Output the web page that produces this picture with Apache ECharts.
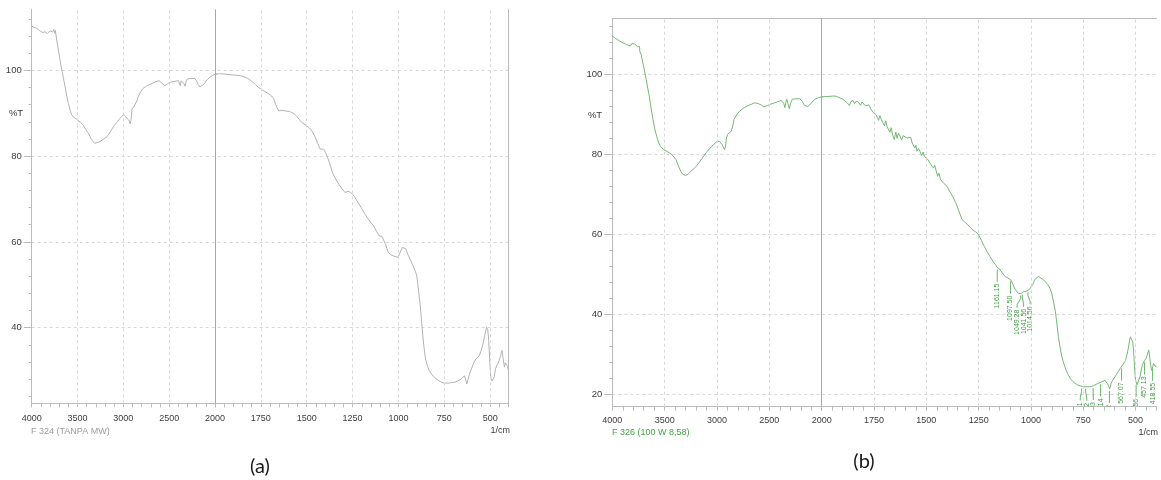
<!DOCTYPE html>
<html>
<head>
<meta charset="utf-8">
<script src="https://cdn.jsdelivr.net/npm/echarts@6/dist/echarts.min.js"></script>
<style>
  html, body { margin: 0; padding: 0; background: #fff; }
  #chart { width: 1161px; height: 480px; }
</style>
</head>
<body>
<div id="chart"></div>
<script>
// ---------------- DATA ----------------
// Spectrum (a): F 324 (TANPA MW)  — wavenumber (1/cm) and %T
const waveA = [4000,3975,3945,3925,3909,3895,3880,3865,3855,3840,3829,3815,3800,3785,3771,3760,3753,3746,3742,3725,3709,3690,3672,3655,3636,3618,3600,3580,3563,3540,3508,3470,3436,3410,3381,3350,3316,3290,3254,3220,3180,3140,3108,3075,3053,3020,2995,2975,2955,2935,2925,2915,2905,2885,2867,2850,2836,2810,2789,2750,2711,2660,2613,2580,2547,2520,2496,2450,2398,2385,2379,2370,2352,2340,2328,2315,2301,2260,2223,2200,2184,2165,2145,2120,2086,2050,2008,2000,1975,1940,1906,1870,1848,1820,1799,1780,1760,1745,1730,1710,1691,1680,1672,1662,1652,1635,1613,1595,1584,1570,1555,1540,1525,1505,1486,1470,1457,1440,1428,1418,1408,1398,1389,1375,1359,1345,1330,1310,1291,1275,1262,1242,1225,1203,1185,1164,1150,1135,1120,1105,1090,1082,1070,1055,1040,1025,1004,995,988,978,969,960,949,935,920,910,900,890,881,874,867,860,852,842,832,818,803,780,754,725,695,675,656,641,634,627,620,613,600,590,578,559,548,539,528,520,513,508,502,496,490,484,478,471,460,451,443,436,430,422,417,412,406,400];
const transA = [110.3,110.0,109.8,109.4,109.2,108.8,108.8,109.1,109.0,108.7,108.6,109.0,109.2,108.9,108.9,109.5,109.8,108.6,109.3,106.8,104.7,102.3,100.1,98.3,96.2,94.0,92.3,90.6,89.6,89.0,88.6,87.9,87.2,86.2,85.3,84.0,83.0,83.1,83.4,83.9,84.5,85.7,86.9,87.8,88.4,89.2,89.7,89.2,88.8,88.2,87.5,88.6,91.0,91.5,91.8,93.0,94.0,95.0,95.7,96.3,96.7,97.2,97.6,97.0,96.4,96.8,97.2,97.4,97.6,97.2,96.4,97.5,97.8,97.0,96.3,97.4,98.0,98.1,98.1,97.5,96.7,96.1,96.1,96.8,97.8,98.5,99.0,99.05,99.2,99.1,98.9,98.8,98.6,98.1,97.4,96.7,95.9,95.5,95.1,94.6,94.0,93.4,92.4,91.3,90.5,90.7,90.5,90.4,90.2,89.9,89.3,88.5,87.8,87.2,86.6,85.8,84.7,83.0,81.7,81.8,81.6,80.9,80.0,78.3,76.1,74.9,73.8,72.5,71.5,71.8,71.6,70.7,69.5,68.0,66.6,65.3,64.5,63.7,62.5,61.4,61.3,61.2,59.4,57.5,57.0,56.7,56.4,57.0,57.9,58.7,58.9,58.4,57.1,55.8,54.4,53.4,52.1,48.5,45.1,41.5,38.1,35.2,32.7,31.1,30.0,29.1,28.4,27.6,27.1,27.1,27.3,27.6,28.1,28.8,28.0,26.9,28.0,29.2,30.6,31.8,32.7,33.5,34.8,36.2,38.5,40.1,39.5,37.0,32.0,28.1,27.6,27.3,28.5,30.4,31.5,32.3,33.5,34.7,33.0,30.8,31.8,32.0,31.0,30.0];

// Spectrum (b): F 326 (100 W 8,58)
const waveB = [4000,3970,3950,3935,3915,3900,3880,3863,3850,3840,3827,3815,3800,3785,3773,3760,3750,3740,3737,3725,3719,3700,3683,3665,3647,3630,3611,3595,3576,3560,3540,3510,3482,3455,3428,3410,3392,3365,3338,3320,3302,3275,3248,3210,3176,3140,3104,3068,3032,3000,2978,2965,2953,2940,2928,2918,2910,2899,2880,2863,2850,2838,2810,2784,2750,2712,2675,2640,2604,2575,2550,2520,2496,2450,2406,2385,2370,2362,2352,2343,2334,2322,2309,2298,2281,2245,2209,2185,2170,2155,2135,2119,2090,2065,2030,2000,1993,1965,1942,1930,1916,1900,1888,1878,1872,1867,1862,1850,1843,1835,1825,1815,1808,1799,1790,1782,1775,1763,1755,1748,1740,1734,1728,1722,1715,1707,1700,1694,1688,1680,1674,1668,1660,1653,1646,1640,1633,1626,1618,1610,1600,1590,1582,1575,1568,1563,1555,1550,1545,1538,1530,1522,1515,1509,1500,1492,1485,1478,1473,1466,1460,1453,1446,1440,1432,1425,1419,1410,1401,1390,1374,1360,1347,1338,1329,1315,1302,1290,1277,1263,1250,1237,1223,1210,1196,1182,1169,1161,1151,1137,1124,1110,1097,1088,1079,1070,1061,1049,1043,1035,1025,1016,1008,1000,991,982,973,964,955,941,930,919,910,901,892,883,876,869,862,856,847,838,825,811,793,775,750,718,700,682,664,646,637,630,624,617,610,592,575,560,548,538,530,525,518,513,509,504,500,493,486,478,468,458,450,443,437,432,428,423,418,414,407,400];
const transB = [109.5,108.9,108.6,108.7,108.0,108.3,107.6,107.9,107.2,107.5,107.0,107.6,107.2,107.5,107.4,106.8,106.5,106.9,105.6,105.0,104.1,101.8,99.5,97.0,94.5,91.5,88.6,86.3,84.4,83.0,81.9,81.1,80.7,80.3,79.8,79.3,78.6,76.8,75.2,74.8,74.6,75.0,75.7,76.6,77.7,79.0,80.3,81.4,82.4,83.1,83.2,82.8,82.4,81.8,81.1,82.0,84.0,84.9,85.4,85.7,87.0,88.6,89.9,90.7,91.4,92.0,92.4,92.8,92.6,92.2,91.8,92.1,92.4,92.8,93.2,93.4,93.7,92.6,91.6,92.8,93.7,92.6,91.3,92.6,93.7,93.8,93.8,93.2,92.3,91.8,91.8,92.1,93.0,93.7,94.1,94.3,94.3,94.4,94.5,94.4,94.1,93.7,93.2,92.8,93.3,92.1,93.0,93.4,92.6,93.2,93.0,92.2,93.0,92.6,92.0,91.7,92.3,91.1,90.4,90.9,89.8,89.5,88.4,89.6,88.6,88.2,87.0,88.3,86.9,87.0,85.4,86.6,84.6,83.6,85.5,83.9,85.2,84.5,83.5,84.6,84.2,84.0,83.5,84.2,82.8,83.2,81.5,82.2,80.7,81.4,80.6,79.6,80.5,79.4,79.8,78.6,79.0,77.3,77.7,76.5,77.2,75.8,74.4,75.2,73.6,73.8,72.8,72.5,71.9,70.8,69.4,67.9,66.1,64.8,63.6,62.9,62.3,61.6,61.0,60.5,59.8,58.4,56.9,55.6,54.4,53.2,52.3,51.6,51.3,50.3,49.4,49.0,48.6,47.6,46.5,45.8,45.2,45.1,45.2,45.6,45.6,45.9,46.1,46.5,47.4,48.6,49.1,49.4,49.2,48.6,48.0,47.3,46.5,45.2,43.0,40.6,37.5,34.4,32.1,30.2,28.3,26.8,25.1,23.8,22.8,22.2,21.8,21.8,22.1,22.6,23.0,23.4,23.0,22.2,21.3,22.6,23.4,24.8,26.3,27.4,28.4,30.5,33.0,34.3,34.7,33.0,30.2,26.0,23.4,22.3,22.2,24.5,27.2,28.3,28.9,30.0,31.0,29.0,27.2,25.9,26.8,27.6,27.0,26.8];

// Peak annotations of (b)
const peakWaveB  = [1161.15, 1097.50, 1049.28, 1041.56, 1014.56, 758.01, 738.72, 702.93, 667.14, 624.92, 567.07, 497.56, 457.13, 418.55];
const peakTransB = [51.6, 48.6, 45.1, 45.3, 45.9, 21.9, 21.8, 22.0, 22.9, 21.3, 26.9, 22.8, 28.4, 26.8];
const peakLabelB = ['1161.15','1097.50','1049.28','1041.56','1014.56','758.01','738.72','702.93','667.14','624.92','567.07','497.56','457.13','418.55'];

// Tick labels / grid lines
const xTicksLeft  = [4000, 3500, 3000, 2500, 2000];
const xTicksRight = [1750, 1500, 1250, 1000, 750, 500];
const gridLeft    = [3500, 3000, 2500];
const gridRight   = [1750, 1500, 1250, 1000, 750, 500];
const splitWave   = 2000;
const yTicksA = [40, 60, 80, 100];
const yTicksB = [20, 40, 60, 80, 100];

// ---------------- STYLE ----------------
const FONT = "'Liberation Sans Narrow','Liberation Sans',sans-serif";
const C_AXIS = '#bcbcbc';
const C_GRID = '#d8d8d8';
const C_LABEL = '#3c3c3c';
const C_A = '#b3b3b3';
const C_B = '#74b874';
const C_PEAK = '#3f9f3f';

const seriesA = waveA.map((w, i) => [w, transA[i]]);
const seriesB = waveB.map((w, i) => [w, transB[i]]);
const peaksB = peakWaveB.map((w, i) => [w, peakTransB[i]]);

function xAxisData(grid, min, max, interval, shownLabels, margin) {
  return {
    gridIndex: grid, type: 'value', min: min, max: max, interval: interval, inverse: true,
    axisLine: { show: true, lineStyle: { color: C_AXIS, width: 1 } },
    axisTick: { show: true, length: 4, lineStyle: { color: C_AXIS } },
    axisLabel: {
      show: true, margin: margin, color: C_LABEL, fontSize: 9, fontFamily: FONT,
      showMinLabel: true, showMaxLabel: true,
      formatter: v => shownLabels.indexOf(v) >= 0 ? String(v) : ''
    },
    splitLine: { show: false }
  };
}
function xAxisTop(grid, min, max) {
  return {
    gridIndex: grid, type: 'value', min: min, max: max, inverse: true, position: 'top',
    axisLine: { show: true, lineStyle: { color: C_AXIS, width: 1 } },
    axisTick: { show: false }, axisLabel: { show: false }, splitLine: { show: false }
  };
}
function hiddenX(grid) {
  return { gridIndex: grid, type: 'value', show: false, min: 0, max: 1 };
}
function yAxisData(grid, min, max, showLine, pos) {
  return {
    gridIndex: grid, type: 'value', min: min, max: max, position: pos || 'left',
    axisLine: { show: showLine, lineStyle: { color: C_AXIS, width: 1 } },
    axisTick: { show: false }, axisLabel: { show: false }, splitLine: { show: false }
  };
}
function yAxisMajor(grid, min, max, shown) {
  return {
    gridIndex: grid, type: 'value', min: min, max: max, interval: 20,
    axisLine: { show: false },
    axisTick: { show: true, length: 8, lineStyle: { color: C_AXIS } },
    axisLabel: { show: true, margin: 10, color: C_LABEL, fontSize: 9.5, fontFamily: FONT,
      formatter: v => shown.indexOf(v) >= 0 ? String(v) : '' },
    splitLine: { show: true, lineStyle: { color: C_GRID, type: [3, 3], width: 1 } }
  };
}
function yAxisMinor(grid, min, max) {
  return {
    gridIndex: grid, type: 'value', min: min, max: max, interval: 4,
    axisLine: { show: false },
    axisTick: { show: true, length: 3, lineStyle: { color: C_AXIS } },
    axisLabel: { show: false }, splitLine: { show: false }
  };
}
function vLines(values, withSplit) {
  const d = values.map(v => ({ xAxis: v, lineStyle: { color: C_GRID, type: [3, 3], width: 1 } }));
  if (withSplit) d.push({ xAxis: splitWave, lineStyle: { color: '#a8a8a8', type: 'solid', width: 1 } });
  return { silent: true, symbol: 'none', label: { show: false }, animation: false, data: d };
}
function lineSeries(data, xi, yi, color, marks) {
  return {
    type: 'line', data: data, xAxisIndex: xi, yAxisIndex: yi, showSymbol: false, symbol: 'none',
    lineStyle: { color: color, width: 1 }, itemStyle: { color: color }, animation: false,
    clip: true, z: 3, markLine: marks
  };
}

function spread(xs, gap) {
  const order = xs.map((x, i) => i).sort((a, b) => xs[a] - xs[b]);
  const cl = [];
  for (const i of order) {
    cl.push({ ids: [i], sum: xs[i] });
    while (cl.length > 1) {
      const b = cl[cl.length - 1], a = cl[cl.length - 2];
      const sa = a.sum / a.ids.length - (a.ids.length - 1) * gap / 2;
      const ea = sa + (a.ids.length - 1) * gap;
      const sb = b.sum / b.ids.length - (b.ids.length - 1) * gap / 2;
      if (sb - ea < gap) { a.ids = a.ids.concat(b.ids); a.sum += b.sum; cl.pop(); } else break;
    }
  }
  const out = [];
  cl.forEach(c => {
    const n = c.ids.length, s = c.sum / n - (n - 1) * gap / 2;
    c.ids.forEach((id, k) => { out[id] = s + k * gap; });
  });
  return out;
}

const option = {
  animation: false,
  backgroundColor: '#ffffff',
  grid: [
    { left: 31.7, top: 9.3, width: 183.3, height: 394, outerBoundsMode: 'none' },
    { left: 215, top: 9.3, width: 293.5, height: 394, outerBoundsMode: 'none' },
    { left: 31.7, top: 70.3, width: 476.8, height: 257.4, outerBoundsMode: 'none' },
    { left: 31.7, top: 18.8, width: 20, height: 377.5, outerBoundsMode: 'none' },
    { left: 612.3, top: 18.3, width: 209.4, height: 388.4, outerBoundsMode: 'none' },
    { left: 821.7, top: 18.3, width: 334.8, height: 388.4, outerBoundsMode: 'none' },
    { left: 612.3, top: 74, width: 544.2, height: 320, outerBoundsMode: 'none' },
    { left: 612.3, top: 26, width: 20, height: 368, outerBoundsMode: 'none' }
  ],
  xAxis: [
    xAxisData(0, 2000, 4000, 100, xTicksLeft, 11),
    xAxisData(1, 400, 2000, 50, xTicksRight, 11),
    hiddenX(2), hiddenX(3),
    xAxisData(4, 2000, 4000, 100, xTicksLeft, 9),
    xAxisData(5, 400, 2000, 50, xTicksRight, 9),
    hiddenX(6), hiddenX(7),
    xAxisTop(4, 2000, 4000),
    xAxisTop(5, 400, 2000)
  ],
  yAxis: [
    yAxisData(0, 22.38, 114.22, true),
    yAxisData(1, 22.38, 114.22, true, 'right'),
    yAxisMajor(2, 40, 100, yTicksA),
    yAxisMinor(3, 24, 112),
    yAxisData(4, 16.825, 113.925, true),
    yAxisData(5, 16.825, 113.925, false),
    yAxisMajor(6, 20, 100, yTicksB),
    yAxisMinor(7, 20, 112)
  ],
  series: [
    lineSeries(seriesA, 0, 0, C_A, vLines(gridLeft, true)),
    lineSeries(seriesA, 1, 1, C_A, vLines(gridRight, false)),
    lineSeries(seriesB, 4, 4, C_B, vLines(gridLeft, true)),
    lineSeries(seriesB, 5, 5, C_B, vLines(gridRight, false)),
    {
      type: 'custom', xAxisIndex: 5, yAxisIndex: 5, data: peaksB, clip: true, animation: false, z: 4,
      renderItem: function (params, api) {
        const i = params.dataIndex;
        const pts = peaksB.map(p => api.coord(p));
        const lx = spread(pts.map(p => p[0]), 6.5)[i];
        const px = pts[i][0], py = pts[i][1];
        const cs = params.coordSys;
        return {
          type: 'group',
          clipPath: { type: 'rect', shape: { x: cs.x - 20, y: cs.y, width: cs.width + 40, height: cs.height } },
          children: [
            { type: 'polyline', shape: { points: [[px, py + 2], [px, py + 5], [lx, py + 11], [lx, py + 14]] },
              style: { stroke: C_PEAK, lineWidth: 0.8, fill: null } },
            { type: 'text', x: lx, y: py + 16, rotation: Math.PI / 2,
              style: { text: peakLabelB[i], x: 0, y: 0, fill: C_PEAK, fontSize: 7, fontFamily: FONT,
                align: 'right', verticalAlign: 'middle' } }
          ]
        };
      }
    }
  ],
  graphic: [
    { type: 'text', x: 16, y: 113, style: { text: '%T', fill: C_LABEL, fontSize: 9.5, fontFamily: FONT, align: 'center', verticalAlign: 'middle' } },
    { type: 'text', x: 31, y: 432, style: { text: 'F 324 (TANPA MW)', fill: '#9d9d9d', fontSize: 9, fontFamily: FONT, align: 'left', verticalAlign: 'middle' } },
    { type: 'text', x: 510, y: 431, style: { text: '1/cm', fill: C_LABEL, fontSize: 9, fontFamily: FONT, align: 'right', verticalAlign: 'middle' } },
    { type: 'text', x: 260, y: 467, style: { text: '(a)', fill: '#1a1a1a', fontSize: 20, fontFamily: "'Lato','Open Sans',sans-serif", align: 'center', verticalAlign: 'middle' } },
    { type: 'text', x: 595, y: 115, style: { text: '%T', fill: C_LABEL, fontSize: 9.5, fontFamily: FONT, align: 'center', verticalAlign: 'middle' } },
    { type: 'text', x: 612, y: 433, style: { text: 'F 326 (100 W 8,58)', fill: '#43a443', fontSize: 9, fontFamily: FONT, align: 'left', verticalAlign: 'middle' } },
    { type: 'text', x: 1158, y: 433, style: { text: '1/cm', fill: C_LABEL, fontSize: 9, fontFamily: FONT, align: 'right', verticalAlign: 'middle' } },
    { type: 'text', x: 864, y: 462, style: { text: '(b)', fill: '#1a1a1a', fontSize: 20, fontFamily: "'Lato','Open Sans',sans-serif", align: 'center', verticalAlign: 'middle' } }
  ]
};

const chart = echarts.init(document.getElementById('chart'), null, { renderer: 'canvas' });
chart.setOption(option);
</script>
</body>
</html>
